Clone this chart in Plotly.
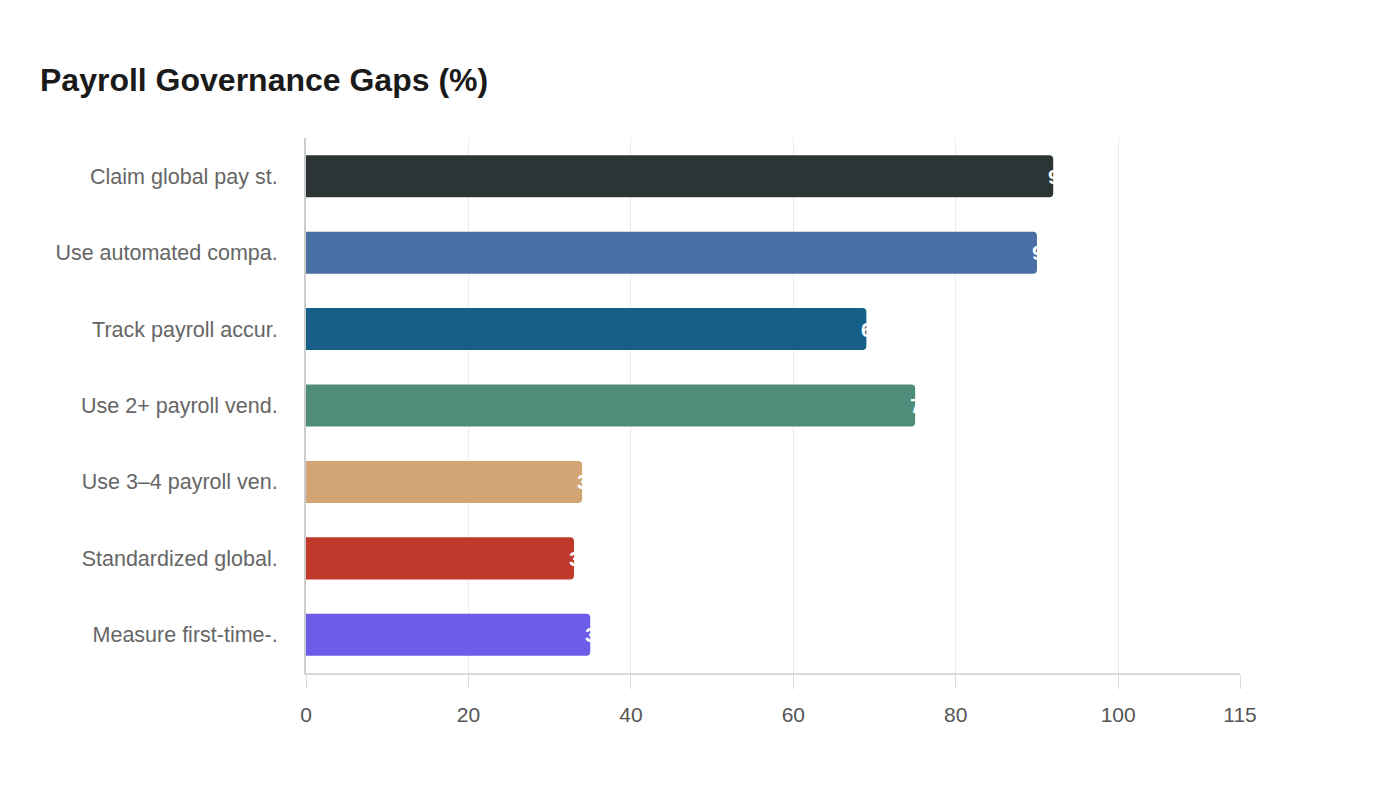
import plotly.graph_objects as go

# categories, top to bottom
labels = [
    "Claim global pay st.",
    "Use automated compa.",
    "Track payroll accur.",
    "Use 2+ payroll vend.",
    "Use 3–4 payroll ven.",
    "Standardized global.",
    "Measure first-time-.",
]
values = [92, 90, 69, 75, 34, 33, 35]
colors = ["#2d3436", "#4a6fa5", "#166088", "#4f8c7a", "#d4a574", "#c0392b", "#6c5ce7"]
tick_vals = [0, 20, 40, 60, 80, 100, 115]

FONT = "Liberation Sans, Arial, sans-serif"

fig = go.Figure()
fig.add_trace(go.Bar(
    x=values,
    y=labels,
    orientation="h",
    marker=dict(color=colors, cornerradius=4, line=dict(width=0)),
    hoverinfo="x+y",
))

# white value labels start just before the bar end, so most of the text is lost on the white background
for lab, v in zip(labels, values):
    fig.add_annotation(
        x=v, y=lab, text="<b>%d</b>" % v, showarrow=False,
        xanchor="left", yanchor="middle", xshift=-6, borderpad=0,
        font=dict(color="white", size=21, family=FONT),
    )

fig.update_layout(
    width=1400, height=800,
    paper_bgcolor="white", plot_bgcolor="white",
    margin=dict(l=298, r=168, t=130, b=135),
    title=dict(
        text="<b>Payroll Governance Gaps (%)</b>",
        x=32 / 1400, xanchor="left", y=1 - 72 / 800, yanchor="middle",
        font=dict(size=32, color="#1a1a1a", family=FONT),
    ),
    bargap=0.45,
    showlegend=False,
    font=dict(family=FONT),
)
fig.update_xaxes(
    range=[0, 115], tickvals=tick_vals,
    showgrid=True, gridcolor="#ececec", gridwidth=1,
    showline=True, linecolor="#d9d9d9", linewidth=2,
    ticks="outside", ticklen=14, tickcolor="#d9d9d9",
    tickfont=dict(size=21, color="#555555"),
    ticklabelstandoff=8,
    zeroline=False,
)
fig.update_yaxes(
    autorange="reversed",
    showline=True, linecolor="#cccccc", linewidth=2,
    showgrid=False, ticks="", ticklen=0,
    tickfont=dict(size=21.5, color="#666666"),
    ticklabelstandoff=22,
)

fig.write_html("out.html")
